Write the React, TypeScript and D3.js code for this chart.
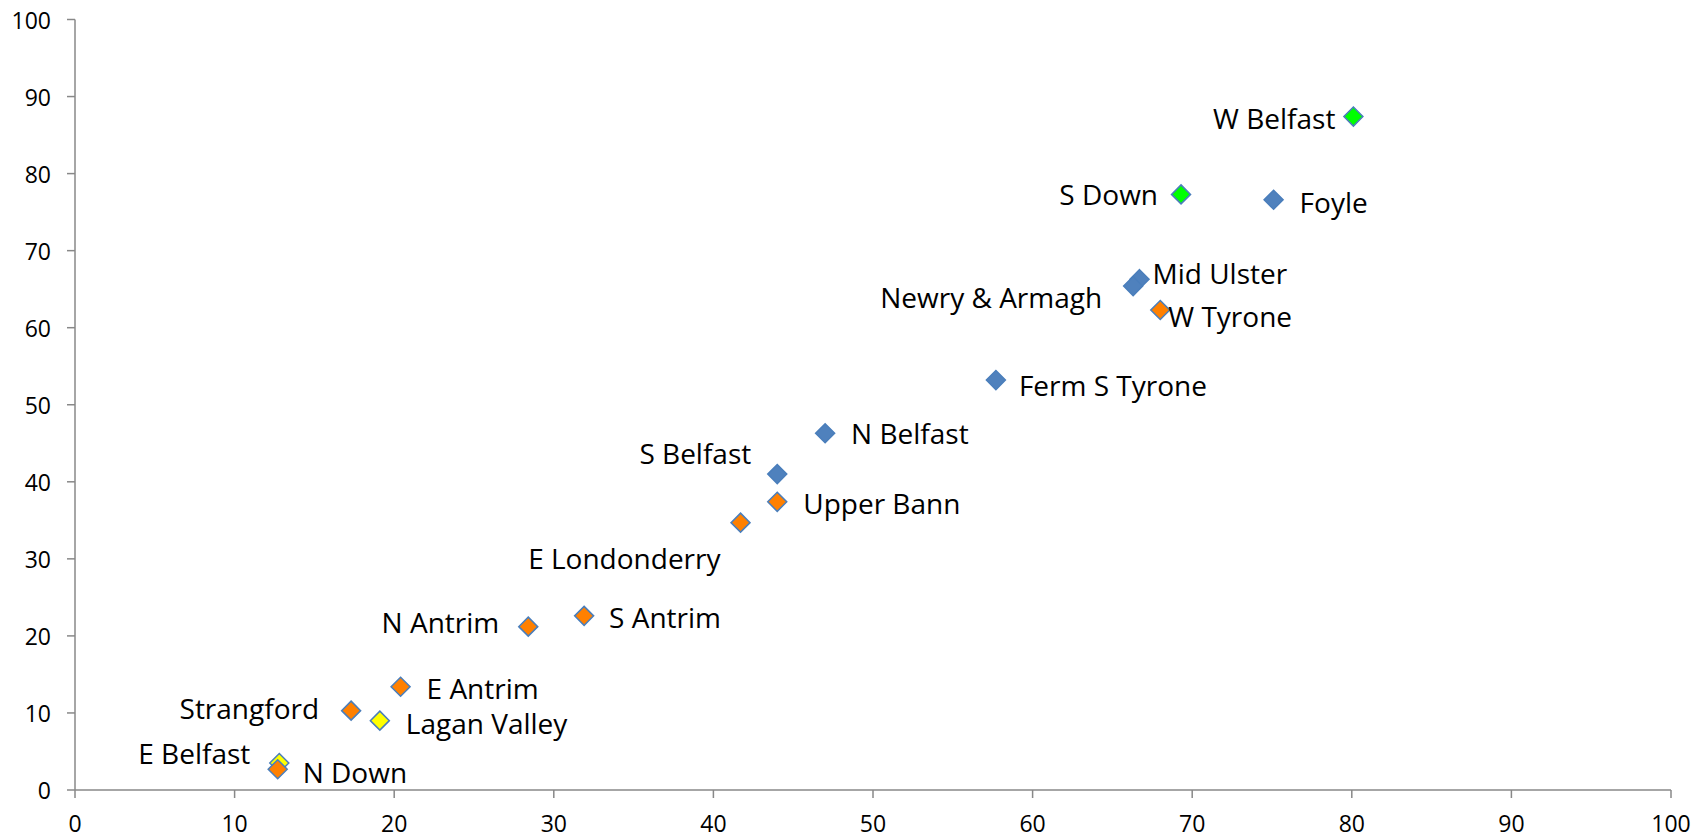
import React from "react";
import * as d3 from "d3";

const names = [
  "W Belfast", "S Down", "Foyle", "Mid Ulster", "Newry & Armagh", "W Tyrone",
  "Ferm S Tyrone", "N Belfast", "S Belfast", "Upper Bann", "E Londonderry",
  "S Antrim", "N Antrim", "E Antrim", "Strangford", "Lagan Valley", "E Belfast", "N Down",
];
const xValues = [80.1, 69.3, 75.1, 66.7, 66.3, 68.0, 57.7, 47.0, 44.0, 44.0, 41.7, 31.9, 28.4, 20.4, 17.3, 19.1, 12.8, 12.7];
const yValues = [87.4, 77.3, 76.6, 66.3, 65.4, 62.3, 53.2, 46.3, 41.0, 37.4, 34.7, 22.6, 21.2, 13.4, 10.3, 9.0, 3.5, 2.7];
const groups = ["green", "green", "blue", "blue", "blue", "orange", "blue", "blue", "blue", "orange", "orange", "orange", "orange", "orange", "orange", "yellow", "yellow", "orange"];
const xTicks = [0, 10, 20, 30, 40, 50, 60, 70, 80, 90, 100];
const yTicks = [0, 10, 20, 30, 40, 50, 60, 70, 80, 90, 100];

// label placement (pixel offsets, anchor)
const labelDx = [-18, -23, 26, 13, -31, 8, 23, 26, -26, 26, -20, 25, -29, 26, -32, 26, -29, 25];
const labelDy = [1, 0, 2, -6, 11, 6, 5, 0, -21, 1, 35, 1, -5, 1, -3, 2, -10, 3];
const labelAnchor = ["end", "end", "start", "start", "end", "start", "start", "start", "end", "start", "end", "start", "end", "start", "end", "start", "end", "start"];

const fills: Record<string, string> = {
  blue: "#4F81BD",
  orange: "#FF8000",
  green: "#00FF00",
  yellow: "#FFFF00",
};

const W = 1707;
const H = 838;
const M = { left: 75, right: 1671, top: 19.5, bottom: 790 };
const FONT = "'Open Sans', 'DejaVu Sans', sans-serif";

export default function App() {
  const x = d3.scaleLinear().domain([0, 100]).range([M.left, M.right]);
  const y = d3.scaleLinear().domain([0, 100]).range([M.bottom, M.top]);
  const r = 9.5;
  const diamond = (cx: number, cy: number) =>
    `M${cx},${cy - r}L${cx + r},${cy}L${cx},${cy + r}L${cx - r},${cy}Z`;
  const order = d3.range(names.length);
  return (
    <svg
      width={W}
      height={H}
      style={{ position: "absolute", left: 0, top: 0, background: "#fff" }}
      fontFamily={FONT}
    >
      <rect x={0} y={0} width={W} height={H} fill="#fff" />
      <line x1={x(0)} x2={x(0)} y1={y(100)} y2={y(0)} stroke="#888" strokeWidth={1.5} />
      <line x1={x(0)} x2={x(100)} y1={y(0)} y2={y(0)} stroke="#888" strokeWidth={1.5} />
      {yTicks.map((t) => (
        <g key={"y" + t}>
          <line x1={x(0) - 8} x2={x(0)} y1={y(t)} y2={y(t)} stroke="#888" strokeWidth={1.5} />
          <text x={51} y={y(t)} textAnchor="end" dominantBaseline="central" fontSize={23} fill="#000">
            {t}
          </text>
        </g>
      ))}
      {xTicks.map((t) => (
        <g key={"x" + t}>
          <line x1={x(t)} x2={x(t)} y1={y(0)} y2={y(0) + 8} stroke="#888" strokeWidth={1.5} />
          <text x={x(t)} y={832} textAnchor="middle" fontSize={23} fill="#000">
            {t}
          </text>
        </g>
      ))}
      {order.map((i) => (
        <path
          key={"m" + i}
          d={diamond(x(xValues[i]), y(yValues[i]))}
          fill={fills[groups[i]]}
          stroke="#4A7EBB"
          strokeWidth={1.5}
        />
      ))}
      {order.map((i) => (
        <text
          key={"l" + i}
          x={x(xValues[i]) + labelDx[i]}
          y={y(yValues[i]) + labelDy[i]}
          textAnchor={labelAnchor[i] as any}
          dominantBaseline="central"
          fontSize={28}
          fill="#000"
        >
          {names[i]}
        </text>
      ))}
    </svg>
  );
}
